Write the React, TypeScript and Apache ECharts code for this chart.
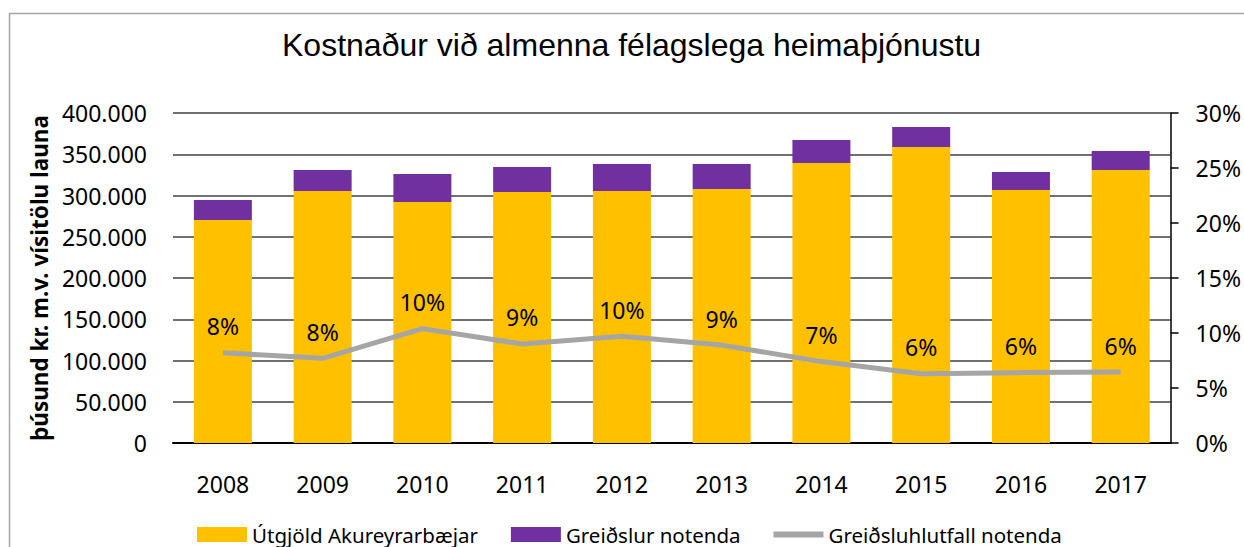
import React, { useEffect, useRef } from "react";
import * as echarts from "echarts";

const years = ["2008", "2009", "2010", "2011", "2012", "2013", "2014", "2015", "2016", "2017"];
const utgjold = [270300, 305400, 292100, 304200, 305400, 307900, 339400, 358800, 306700, 330900];
const greidslur = [24200, 25500, 33900, 30300, 32800, 30300, 27900, 24200, 21800, 23000];
const hlutfall = [8.2, 7.7, 10.4, 9.0, 9.7, 8.9, 7.4, 6.3, 6.4, 6.45];

const TITLE = "Kostnaður við almenna félagslega heimaþjónustu";
const YNAME = "þúsund kr. m.v. vísitölu launa";
const FONT = "'Noto Sans', sans-serif";

const fmtThousands = (v: number) => String(v).replace(/\B(?=(\d{3})+(?!\d))/g, ".");

export default function App() {
  const ref = useRef<HTMLDivElement>(null);
  useEffect(() => {
    if (!ref.current) return;
    const chart = echarts.init(ref.current, undefined, { renderer: "svg" });
    chart.setOption({
      animation: false,
      backgroundColor: "#ffffff",
      textStyle: { fontFamily: FONT },
      graphic: [
        {
          type: "rect",
          shape: { x: 9.5, y: 13.5, width: 1400, height: 700 },
          style: { fill: "none", stroke: "#a6a6a6", lineWidth: 1.5 },
          silent: true,
        },
      ],
      title: {
        text: TITLE,
        left: 277,
        top: 24,
        textStyle: {
          fontFamily: "'Liberation Sans', Arial, sans-serif",
          fontSize: 32,
          fontWeight: "normal",
          color: "#000",
        },
      },
      legend: {
        left: 192,
        top: 519,
        itemWidth: 50,
        itemHeight: 15,
        itemGap: 33,
        textStyle: { fontFamily: FONT, fontSize: 20.5, color: "#000" },
        data: [
          { name: "Útgjöld Akureyrarbæjar", icon: "rect" },
          { name: "Greiðslur notenda", icon: "rect" },
          { name: "Greiðsluhlutfall notenda", icon: "path://M0 0H50V6H0Z" },
        ],
      },
      grid: { left: 173, right: 72, top: 113, bottom: 104 },
      xAxis: {
        type: "category",
        data: years,
        axisLine: { show: true, lineStyle: { color: "#000", width: 2 } },
        axisTick: { show: false },
        axisLabel: { fontFamily: FONT, fontSize: 23, color: "#000", margin: 29 },
      },
      yAxis: [
        {
          type: "value",
          min: 0,
          max: 400000,
          interval: 50000,
          name: YNAME,
          nameLocation: "middle",
          nameRotate: 90,
          nameGap: 120,
          nameTextStyle: { fontFamily: FONT, fontSize: 22.5, fontWeight: "bold", color: "#000" },
          axisLine: { show: false },
          axisTick: { show: false },
          axisLabel: {
            fontFamily: FONT,
            fontSize: 23,
            color: "#000",
            margin: 26,
            formatter: (v: number) => fmtThousands(v),
          },
          splitLine: { show: true, lineStyle: { color: "#404040", width: 1.5 } },
        },
        {
          type: "value",
          min: 0,
          max: 30,
          interval: 5,
          position: "right",
          axisLine: { show: true, lineStyle: { color: "#000", width: 1.5 } },
          axisTick: { show: true, inside: false, length: 8, lineStyle: { color: "#000", width: 1.5 } },
          axisLabel: {
            fontFamily: FONT,
            fontSize: 23,
            color: "#000",
            margin: 25,
            formatter: "{value}%",
          },
          splitLine: { show: false },
        },
      ],
      series: [
        {
          name: "Útgjöld Akureyrarbæjar",
          type: "bar",
          stack: "total",
          barWidth: 58,
          data: utgjold,
          itemStyle: { color: "#FFC000" },
        },
        {
          name: "Greiðslur notenda",
          type: "bar",
          stack: "total",
          barWidth: 58,
          data: greidslur,
          itemStyle: { color: "#7030A0" },
        },
        {
          name: "Greiðsluhlutfall notenda",
          type: "line",
          yAxisIndex: 1,
          data: hlutfall,
          symbol: "circle",
          symbolSize: 0.1,
          showSymbol: true,
          color: "#A5A5A5",
          itemStyle: { color: "#A5A5A5" },
          lineStyle: { color: "#A5A5A5", width: 5 },
          z: 5,
          label: {
            show: true,
            position: "top",
            distance: 15,
            fontFamily: FONT,
            fontSize: 23,
            color: "#000",
            formatter: (p: any) => Math.round(p.value) + "%",
          },
        },
      ],
    });
    return () => chart.dispose();
  }, []);
  return (
    <div
      ref={ref}
      style={{ position: "absolute", left: 0, top: 0, width: 1244, height: 547 }}
    />
  );
}
